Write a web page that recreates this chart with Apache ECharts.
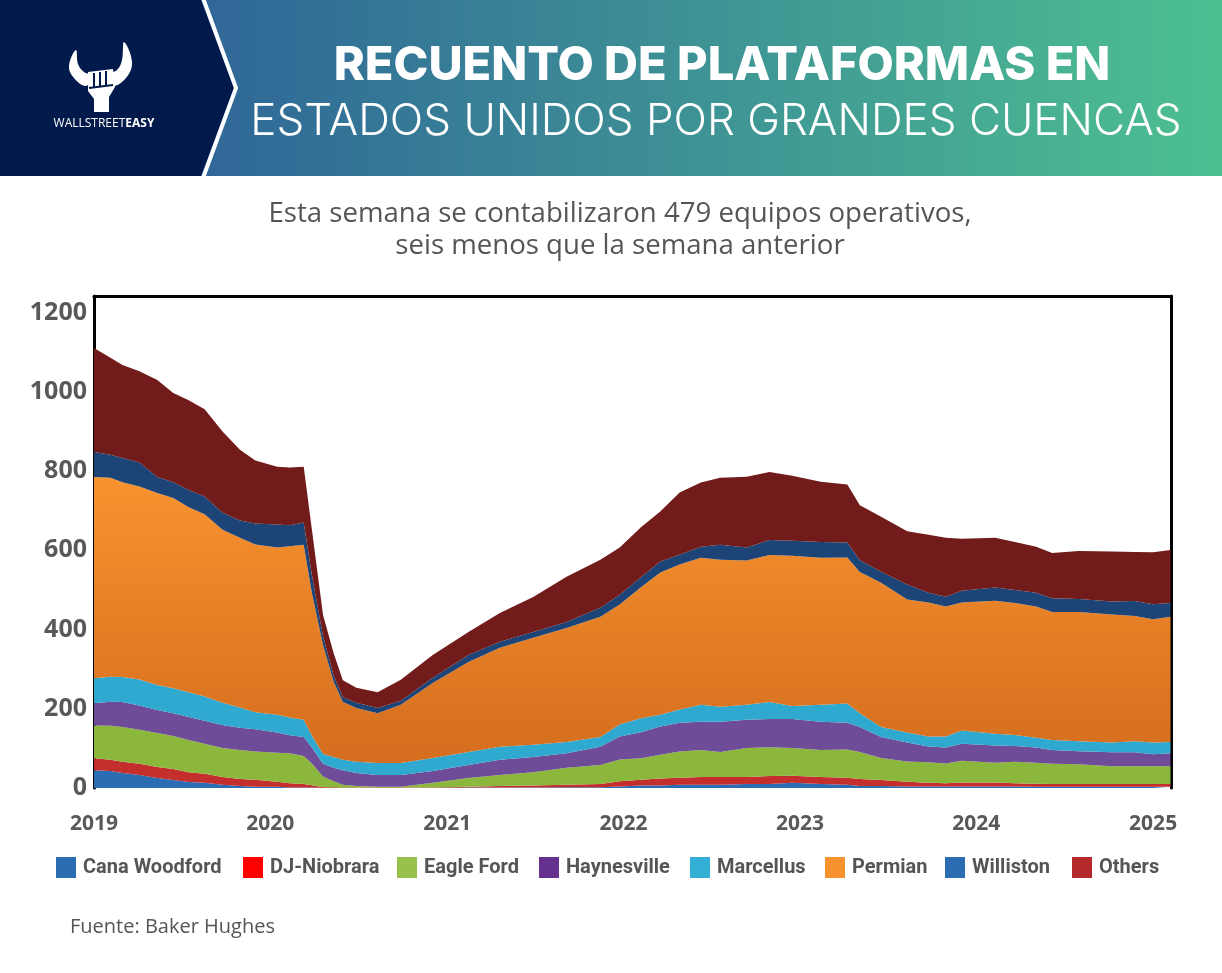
<!DOCTYPE html>
<html>
<head>
<meta charset="utf-8">
<title>Recuento de plataformas en Estados Unidos por grandes cuencas</title>
<script src="https://cdn.jsdelivr.net/npm/echarts@6/dist/echarts.min.js"></script>
<style>
    html, body { margin: 0; padding: 0; background: #fff; }
    #main { width: 1222px; height: 973px; }
</style>
</head>
<body>
<div id="main"></div>
<script type="text/javascript">
    // fechas de muestreo
    var dates = ['2019-01-01','2019-02-04','2019-03-01','2019-04-05','2019-05-12','2019-06-14','2019-07-16','2019-08-18','2019-09-24','2019-10-30',
                 '2019-12-01','2020-01-15','2020-02-10','2020-03-10','2020-03-27','2020-04-19','2020-05-11','2020-05-30','2020-06-27','2020-08-10',
                 '2020-09-27','2020-12-02','2021-02-14','2021-04-20','2021-06-28','2021-09-05','2021-11-14','2021-12-24','2022-02-06','2022-03-18',
                 '2022-04-27','2022-06-10','2022-07-20','2022-09-13','2022-10-30','2022-12-16','2023-02-13','2023-04-09','2023-05-05','2023-06-18',
                 '2023-08-11','2023-09-24','2023-10-30','2023-12-02','2024-02-09','2024-03-21','2024-05-04','2024-06-06','2024-07-31','2024-10-08',
                 '2024-11-24','2025-01-01','2025-02-06'];

    var canaWoodford = [45,43,38,33,25,20,15,13,8,5, 3,3,1,1,1,0,0,0,0,0, 0,0,1,1,1,2,2,4,6,6, 8,8,8,10,10,13,10,8,5,5, 4,4,4,4,4,4,3,3,3,3, 3,3,3];
    var djNiobrara   = [30,28,28,28,28,28,25,23,20,18, 18,13,11,9,6,2,2,1,1,1, 1,1,2,4,5,6,8,13,15,18, 18,20,20,18,20,18,18,18,18,15, 12,9,8,10,10,8,8,7,7,7, 7,7,7];
    var eagleFord    = [83,86,88,86,86,83,81,76,73,73, 71,73,76,71,55,27,15,7,4,2, 2,12,22,28,34,43,48,55,54,60, 66,68,63,73,73,70,68,71,68,56, 51,52,50,55,50,54,53,51,50,45, 45,45,45];
    var haynesville  = [56,61,63,61,58,58,58,58,58,56, 56,51,45,48,40,32,34,37,33,30, 30,30,33,38,38,37,46,58,66,71, 73,71,76,71,71,73,71,68,63,53, 48,40,40,43,43,40,38,35,33,35, 35,30,33];
    var marcellus    = [63,63,63,66,63,63,63,61,56,51, 43,45,45,43,30,25,27,26,28,30, 30,33,33,33,31,28,25,30,35,30, 33,43,38,38,43,33,43,48,35,25, 25,25,28,33,30,28,25,25,25,25, 28,30,28];
    var permian      = [508,502,492,487,485,480,467,460,437,429, 424,422,432,442,360,275,190,146,136,126, 147,189,227,250,270,288,303,303,331,359, 366,371,371,364,371,379,371,369,356,364, 336,338,328,323,336,333,331,323,326,323, 316,311,316];
    var williston    = [63,58,61,61,40,40,43,45,43,43, 53,58,53,56,45,22,16,12,13,13, 10,13,18,15,15,15,23,25,25,28, 25,28,38,33,38,38,40,38,30,28, 38,25,25,30,33,33,35,35,33,33, 38,38,35];
    var others       = [263,245,235,230,245,225,227,220,205,179, 159,146,146,141,115,54,56,43,38,40, 53,58,58,73,88,114,121,119,126,126, 157,162,169,179,172,164,152,146,139,139, 134,146,149,131,126,121,116,114,121,126, 124,131,134];

    var basinNames = ['Cana Woodford', 'DJ-Niobrara', 'Eagle Ford', 'Haynesville', 'Marcellus', 'Permian', 'Williston', 'Others'];

    // posicion horizontal de cada entrada de la leyenda
    var legendLeft = [56, 243, 397, 539, 690, 825, 945, 1072];

    var chart = echarts.init(document.getElementById('main'));

    var toTime = function (s) {
        var p = s.split('-');
        return Date.UTC(+p[0], +p[1] - 1, +p[2]);
    };
    var xs = dates.map(toTime);
    var pairs = function (vals) {
        return vals.map(function (v, i) { return [xs[i], v]; });
    };

    var permianFill = new echarts.graphic.LinearGradient(0, 0, 0, 1, [
        {offset: 0, color: '#f8932f'},
        {offset: 1, color: '#d46d1e'}
    ]);

    // [datos, color leyenda, color area]
    var layers = [
        [canaWoodford, '#2b6db3', '#2b6db3'],
        [djNiobrara,   '#ff0000', '#c42f2e'],
        [eagleFord,    '#97c14a', '#8cb73d'],
        [haynesville,  '#66308f', '#6f4c98'],
        [marcellus,    '#33afd6', '#2fa9d0'],
        [permian,      '#f8922e', permianFill],
        [williston,    '#2b6db3', '#1d4476'],
        [others,       '#b5282c', '#711b1b']
    ];

    var series = layers.map(function (l, i) {
        return {
            name: basinNames[i],
            type: 'line',
            stack: 'total',
            symbol: 'none',
            showSymbol: false,
            smooth: false,
            lineStyle: {width: 0},
            itemStyle: {color: l[1]},
            areaStyle: {color: l[2], opacity: 1},
            emphasis: {disabled: true},
            data: pairs(l[0])
        };
    });

    var legends = basinNames.map(function (n, i) {
        return {
            data: [n],
            left: legendLeft[i],
            top: 857,
            padding: 0,
            icon: 'rect',
            itemWidth: 20,
            itemHeight: 21,
            textStyle: {fontFamily: 'Roboto', fontWeight: 'bold', fontSize: 20, color: '#555', padding: [0, 0, 0, 2]}
        };
    });

    var xMin = Date.UTC(2019, 0, 1), xMax = Date.UTC(2025, 1, 7);
    var yearMs = 365 * 24 * 3600 * 1000;

    var option = {
        animation: false,
        useUTC: true,
        backgroundColor: '#fff',
        grid: {left: 94, right: 51, top: 296, bottom: 185, containLabel: false},
        legend: legends,
        xAxis: [
            {
                type: 'time',
                min: xMin,
                max: xMax,
                minInterval: yearMs,
                maxInterval: yearMs * 1.01,
                position: 'bottom',
                axisLine: {show: false},
                axisTick: {show: false},
                splitLine: {show: false},
                axisLabel: {
                    margin: 26,
                    fontFamily: 'Open Sans',
                    fontWeight: 'bold',
                    fontSize: 21,
                    color: '#595959',
                    showMaxLabel: false,
                    formatter: function (v) {
                        var d = new Date(v);
                        return (d.getUTCMonth() === 0 && d.getUTCDate() === 1) ? String(d.getUTCFullYear()) : '';
                    }
                }
            },
            {
                type: 'time',
                min: xMin,
                max: xMax,
                position: 'top',
                axisLine: {show: true, onZero: false, lineStyle: {color: '#000', width: 3}},
                axisTick: {show: false},
                axisLabel: {show: false},
                splitLine: {show: false}
            }
        ],
        yAxis: [
            {
                type: 'value',
                min: 0,
                max: 1242,
                interval: 200,
                position: 'left',
                axisLine: {show: true, onZero: false, lineStyle: {color: '#000', width: 3}},
                axisTick: {show: false},
                splitLine: {show: false},
                axisLabel: {
                    margin: 7,
                    fontFamily: 'Open Sans',
                    fontWeight: 'bold',
                    fontSize: 25,
                    color: '#595959',
                    formatter: function (v) { return v % 200 === 0 ? String(v) : ''; }
                }
            },
            {
                type: 'value',
                min: 0,
                max: 1242,
                position: 'right',
                axisLine: {show: true, onZero: false, lineStyle: {color: '#000', width: 3}},
                axisTick: {show: false},
                axisLabel: {show: false},
                splitLine: {show: false}
            }
        ],
        graphic: [
            // cabecera
            {
                type: 'rect',
                shape: {x: 0, y: 0, width: 1222, height: 176},
                style: {
                    fill: new echarts.graphic.LinearGradient(0, 0, 1, 0, [
                        {offset: 0.15, color: '#2f6598'},
                        {offset: 1, color: '#4dc091'}
                    ])
                },
                z: 10
            },
            {
                type: 'polygon',
                shape: {points: [[0, 0], [201, 0], [234, 88], [201, 176], [0, 176]]},
                style: {fill: '#021a4b'},
                z: 11
            },
            {
                type: 'polyline',
                shape: {points: [[203, -2], [236, 88], [203, 178]]},
                style: {stroke: '#fff', lineWidth: 4, fill: null},
                z: 12
            },
            // logo
            {
                type: 'group',
                x: 62,
                y: 40,
                z: 12,
                children: [
                    {type: 'polygon', shape: {points: [[24, 46], [12, 38], [7, 26], [14, 10], [16, 24], [22, 32], [30, 36]], smooth: 0.4}, style: {fill: '#fff'}, z: 12},
                    {type: 'polygon', shape: {points: [[50, 46], [64, 38], [70, 22], [62, 2], [60, 20], [55, 30], [44, 35]], smooth: 0.4}, style: {fill: '#fff'}, z: 12},
                    {type: 'polygon', shape: {points: [[26, 32], [51, 29], [53, 47], [47, 57], [47, 72], [32, 72], [32, 59], [26, 51]]}, style: {fill: '#fff'}, z: 12},
                    {type: 'polyline', shape: {points: [[32, 33], [32, 47]]}, style: {stroke: '#021a4b', lineWidth: 2}, z: 13},
                    {type: 'polyline', shape: {points: [[38, 32], [38, 47]]}, style: {stroke: '#021a4b', lineWidth: 2}, z: 13},
                    {type: 'polyline', shape: {points: [[44, 31], [44, 46]]}, style: {stroke: '#021a4b', lineWidth: 2}, z: 13},
                    {type: 'polyline', shape: {points: [[27, 48], [51, 45]]}, style: {stroke: '#021a4b', lineWidth: 2}, z: 13}
                ]
            },
            {
                type: 'text',
                x: 104,
                y: 124,
                z: 12,
                style: {
                    text: '{a|WALLSTREET}{b|EASY}',
                    align: 'center',
                    verticalAlign: 'middle',
                    rich: {
                        a: {fontFamily: 'Open Sans', fontSize: 12, fill: '#fff'},
                        b: {fontFamily: 'Open Sans', fontSize: 12, fontWeight: 'bold', fill: '#fff'}
                    }
                }
            },
            {
                type: 'text',
                x: 722,
                y: 66,
                z: 12,
                style: {
                    text: 'RECUENTO DE PLATAFORMAS EN',
                    fill: '#fff',
                    font: '800 47px Inter',
                    align: 'center',
                    verticalAlign: 'middle'
                }
            },
            {
                type: 'text',
                x: 716,
                y: 122,
                z: 12,
                style: {
                    text: 'ESTADOS UNIDOS POR GRANDES CUENCAS',
                    fill: '#fff',
                    font: '300 44px Inter',
                    align: 'center',
                    verticalAlign: 'middle'
                }
            },
            // subtitulo
            {
                type: 'text',
                x: 620,
                y: 230,
                style: {
                    text: 'Esta semana se contabilizaron 479 equipos operativos,\nseis menos que la semana anterior',
                    fill: '#555',
                    font: '27.6px "Open Sans"',
                    lineHeight: 32,
                    align: 'center',
                    verticalAlign: 'middle'
                }
            },
            // fuente
            {
                type: 'text',
                x: 70,
                y: 927,
                style: {
                    text: 'Fuente: Baker Hughes',
                    fill: '#555',
                    font: '20px "Open Sans"',
                    align: 'left',
                    verticalAlign: 'middle'
                }
            }
        ],
        series: series
    };

    chart.setOption(option);
</script>
</body>
</html>
